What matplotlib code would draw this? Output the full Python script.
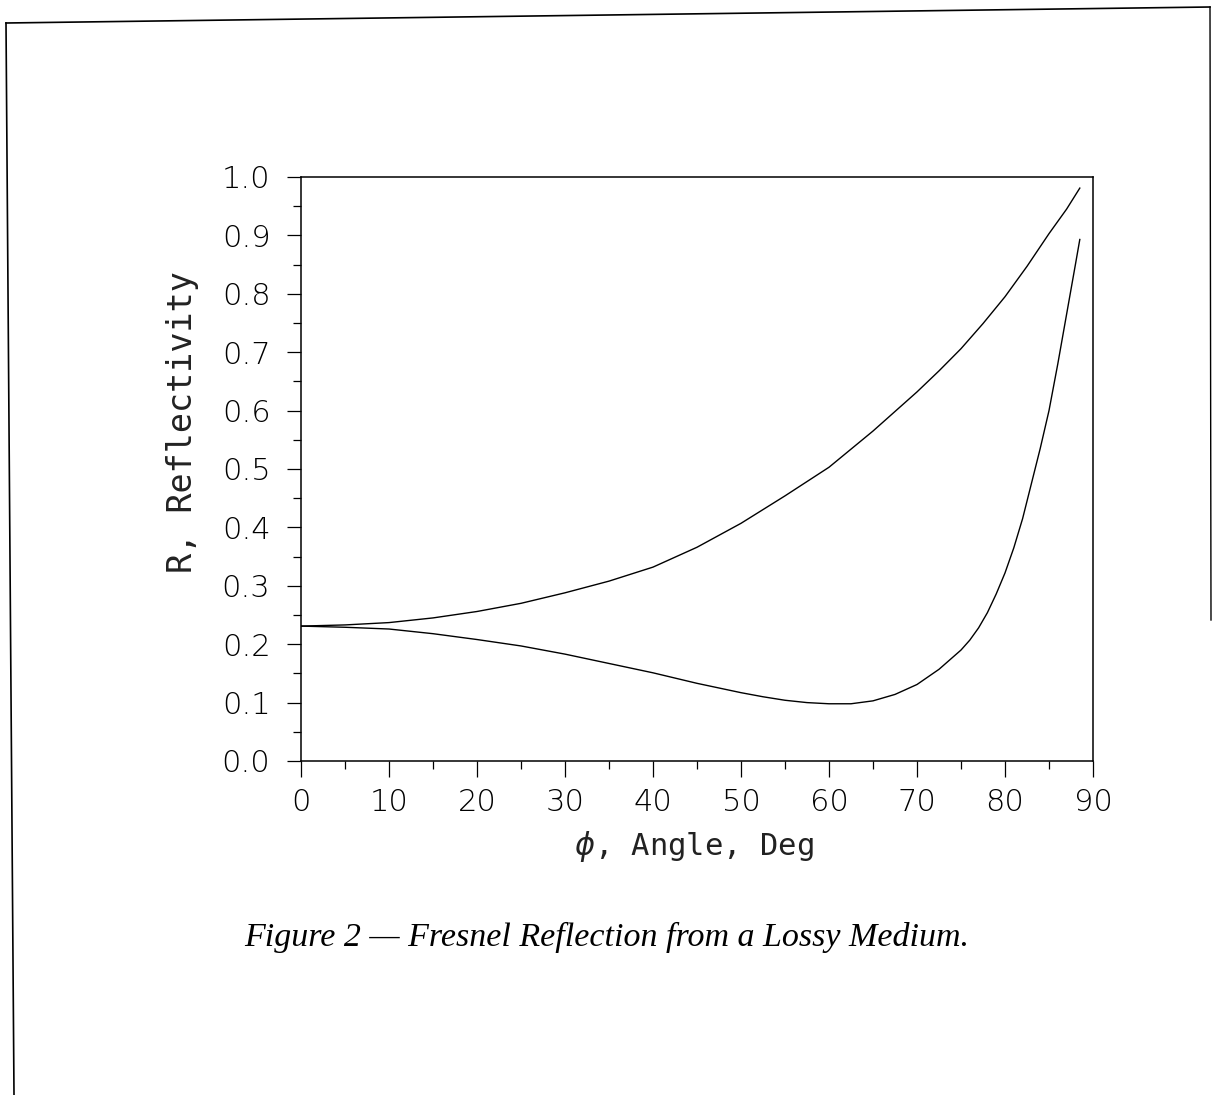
import numpy as np
import matplotlib
matplotlib.use('Agg')
import matplotlib.pyplot as plt
from matplotlib.lines import Line2D

# --- Data
angle_up = [0, 5, 10, 15, 20, 25, 30, 35, 40, 45, 50, 55, 60, 65, 70, 72.5, 75,
            77.5, 80, 82.5, 85, 87, 88.5]
refl_up  = [0.231, 0.233, 0.237, 0.245, 0.256, 0.270, 0.288, 0.308, 0.332, 0.366,
            0.407, 0.454, 0.503, 0.565, 0.632, 0.668, 0.706, 0.749, 0.795, 0.847,
            0.903, 0.945, 0.981]

angle_lo = [0, 5, 10, 15, 20, 25, 30, 35, 40, 45, 50, 52.5, 55, 57.5, 60, 62.5, 65,
            67.5, 70, 72.5, 75, 76, 77, 78, 79, 80, 81, 82, 83, 84, 85, 86, 87, 88, 88.5]
refl_lo  = [0.231, 0.229, 0.226, 0.218, 0.208, 0.197, 0.183, 0.167, 0.151, 0.133,
            0.117, 0.110, 0.104, 0.100, 0.098, 0.098, 0.103, 0.114, 0.131, 0.157,
            0.190, 0.207, 0.228, 0.254, 0.286, 0.322, 0.365, 0.415, 0.475, 0.535,
            0.600, 0.680, 0.765, 0.850, 0.893]

xticks = np.arange(0, 91, 10)
yticks = np.round(np.arange(0, 1.01, 0.1), 1)

W, H = 1213, 1095
fig = plt.figure(figsize=(W/100, H/100), dpi=100)
ax = fig.add_axes([301/W, 1-761/H, 792/W, 584/H])

ax.plot(angle_up, refl_up, color='black', lw=1.0)
ax.plot(angle_lo, refl_lo, color='black', lw=1.0)

ax.set_xlim(0, 90)
ax.set_ylim(0, 1.0)
ax.set_xticks(xticks)
ax.set_xticks(np.arange(5, 90, 10), minor=True)
ax.set_yticks(yticks)
ax.set_yticks(np.arange(0.05, 1.0, 0.1), minor=True)
ax.set_xticklabels([str(v) for v in xticks], fontsize=22, fontfamily='DejaVu Sans', fontweight='light')
ax.set_yticklabels(['%.1f' % v for v in yticks], fontsize=22, fontfamily='DejaVu Sans', fontweight='light')
ax.tick_params(axis='x', which='major', direction='out', length=11.5, width=0.9, pad=8)
ax.tick_params(axis='x', which='minor', direction='out', length=6, width=0.9)
ax.tick_params(axis='y', which='major', direction='out', length=10, width=0.9, pad=12)
ax.tick_params(axis='y', which='minor', direction='out', length=6, width=0.9)
for s in ax.spines.values():
    s.set_linewidth(1.1)

ax.set_xlabel(r'$\phi$, Angle, Deg', fontsize=22, fontfamily='DejaVu Sans Mono', va='center', color='#222222')
ax.xaxis.set_label_coords(0.496, -0.147)
ax.set_ylabel('R, Reflectivity', fontsize=24, fontfamily='DejaVu Sans Mono', va='center', ha='center', color='#222222')
ax.yaxis.set_label_coords(-0.149, 0.58)

fig.text(607/W, 1-937/H, u'Figure 2 \u2014 Fresnel Reflection from a Lossy Medium.',
         fontsize=24.5, fontfamily='Liberation Serif', style='italic', ha='center', va='center')

# scanned page frame
px = lambda x: x/W
py = lambda y: 1-y/H
fig.add_artist(Line2D([px(6), px(14)], [py(23), py(1095)], color='black', lw=1.2))
fig.add_artist(Line2D([px(6), px(1210)], [py(23), py(7)], color='black', lw=1.2))
fig.add_artist(Line2D([px(1210), px(1211)], [py(7), py(620)], color='black', lw=1.0))

fig.savefig('out.png', dpi=100)
